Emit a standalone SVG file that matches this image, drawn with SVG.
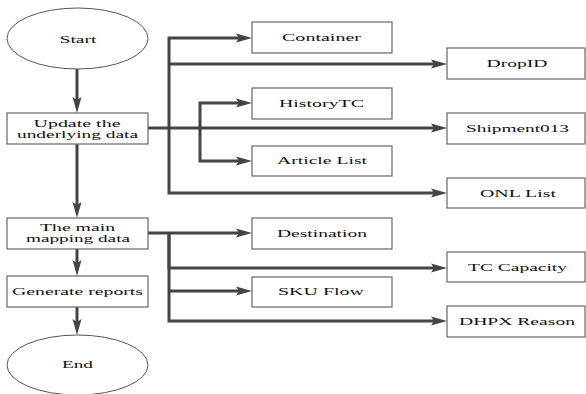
<svg xmlns="http://www.w3.org/2000/svg" width="586" height="394" viewBox="0 0 586 394">
<style>
.box{fill:#fff;stroke:#666;stroke-width:1.2}
.oval{fill:#fff;stroke:#555;stroke-width:1}
.t{font-size:10.5px;fill:#111;text-anchor:middle}
.c{fill:none;stroke:#444;stroke-width:3;stroke-linejoin:miter}
.a{marker-end:url(#ah)}
</style>
<defs>
<marker id="ah" markerUnits="userSpaceOnUse" markerWidth="18" markerHeight="12" viewBox="0 -6 18 12" refX="8" refY="0" orient="auto">
<path d="M0,-4.5 L16,0 L0,4.5 L3,0 z" fill="#444"/>
</marker>
</defs>
<rect width="586" height="394" fill="#fff"/>
<g id="connectors">
<path class="c a" d="M77,69 V105"/>
<path class="c a" d="M77,144 V210"/>
<path class="c a" d="M77,249 V268"/>
<path class="c a" d="M77,307 V327"/>
<path class="c a" d="M148,128 H439"/>
<path class="c a" d="M169,128 V38 H244"/>
<path class="c a" d="M169,64 H439"/>
<path class="c a" d="M169,128 V193 H439"/>
<path class="c a" d="M200,128 V103 H244"/>
<path class="c a" d="M200,128 V161 H244"/>
<path class="c a" d="M148,233 H244"/>
<path class="c a" d="M169,233 V268 H439"/>
<path class="c a" d="M169,291 H244"/>
<path class="c a" d="M169,233 V321 H439"/>
</g>
<g font-family="Liberation Serif, Times New Roman, serif">
<g id="start"><ellipse class="oval" cx="77.5" cy="38.5" rx="70.5" ry="30.5"/><text class="t" x="78" y="42.5" textLength="37" lengthAdjust="spacingAndGlyphs">Start</text></g>
<g id="update"><rect class="box" x="7" y="113" width="141" height="31"/><text class="t" x="77" y="127" textLength="87" lengthAdjust="spacingAndGlyphs">Update the</text><text class="t" x="77.5" y="137.5" textLength="121" lengthAdjust="spacingAndGlyphs">underlying data</text></g>
<g id="main"><rect class="box" x="7" y="218" width="141" height="31"/><text class="t" x="77.5" y="230.5" textLength="75" lengthAdjust="spacingAndGlyphs">The main</text><text class="t" x="78" y="241.5" textLength="104" lengthAdjust="spacingAndGlyphs">mapping data</text></g>
<g id="generate"><rect class="box" x="7" y="276" width="141" height="31"/><text class="t" x="77.5" y="295" textLength="131" lengthAdjust="spacingAndGlyphs">Generate reports</text></g>
<g id="end"><ellipse class="oval" cx="77.5" cy="365" rx="70.5" ry="30"/><text class="t" x="77.5" y="368" textLength="31" lengthAdjust="spacingAndGlyphs">End</text></g>
<g id="container"><rect class="box" x="252" y="22" width="140" height="31"/><text class="t" x="321.5" y="40.5" textLength="79" lengthAdjust="spacingAndGlyphs">Container</text></g>
<g id="dropid"><rect class="box" x="447" y="48" width="138" height="31"/><text class="t" x="517" y="66.5" textLength="61" lengthAdjust="spacingAndGlyphs">DropID</text></g>
<g id="historytc"><rect class="box" x="252" y="88" width="140" height="31"/><text class="t" x="321.5" y="107" textLength="85" lengthAdjust="spacingAndGlyphs">HistoryTC</text></g>
<g id="shipment013"><rect class="box" x="447" y="113" width="138" height="31"/><text class="t" x="517.5" y="132" textLength="103" lengthAdjust="spacingAndGlyphs">Shipment013</text></g>
<g id="articlelist"><rect class="box" x="252" y="146" width="140" height="30"/><text class="t" x="322" y="164" textLength="90" lengthAdjust="spacingAndGlyphs">Article List</text></g>
<g id="onllist"><rect class="box" x="447" y="178" width="138" height="30"/><text class="t" x="518" y="196.5" textLength="76" lengthAdjust="spacingAndGlyphs">ONL List</text></g>
<g id="destination"><rect class="box" x="252" y="218" width="140" height="31"/><text class="t" x="322" y="236.5" textLength="90" lengthAdjust="spacingAndGlyphs">Destination</text></g>
<g id="tccapacity"><rect class="box" x="447" y="252" width="138" height="30"/><text class="t" x="517.5" y="270.5" textLength="99" lengthAdjust="spacingAndGlyphs">TC Capacity</text></g>
<g id="skuflow"><rect class="box" x="252" y="277" width="140" height="30"/><text class="t" x="321" y="295" textLength="86" lengthAdjust="spacingAndGlyphs">SKU Flow</text></g>
<g id="dhpxreason"><rect class="box" x="447" y="306" width="138" height="31"/><text class="t" x="517" y="325" textLength="116" lengthAdjust="spacingAndGlyphs">DHPX Reason</text></g>
</g>
</svg>
